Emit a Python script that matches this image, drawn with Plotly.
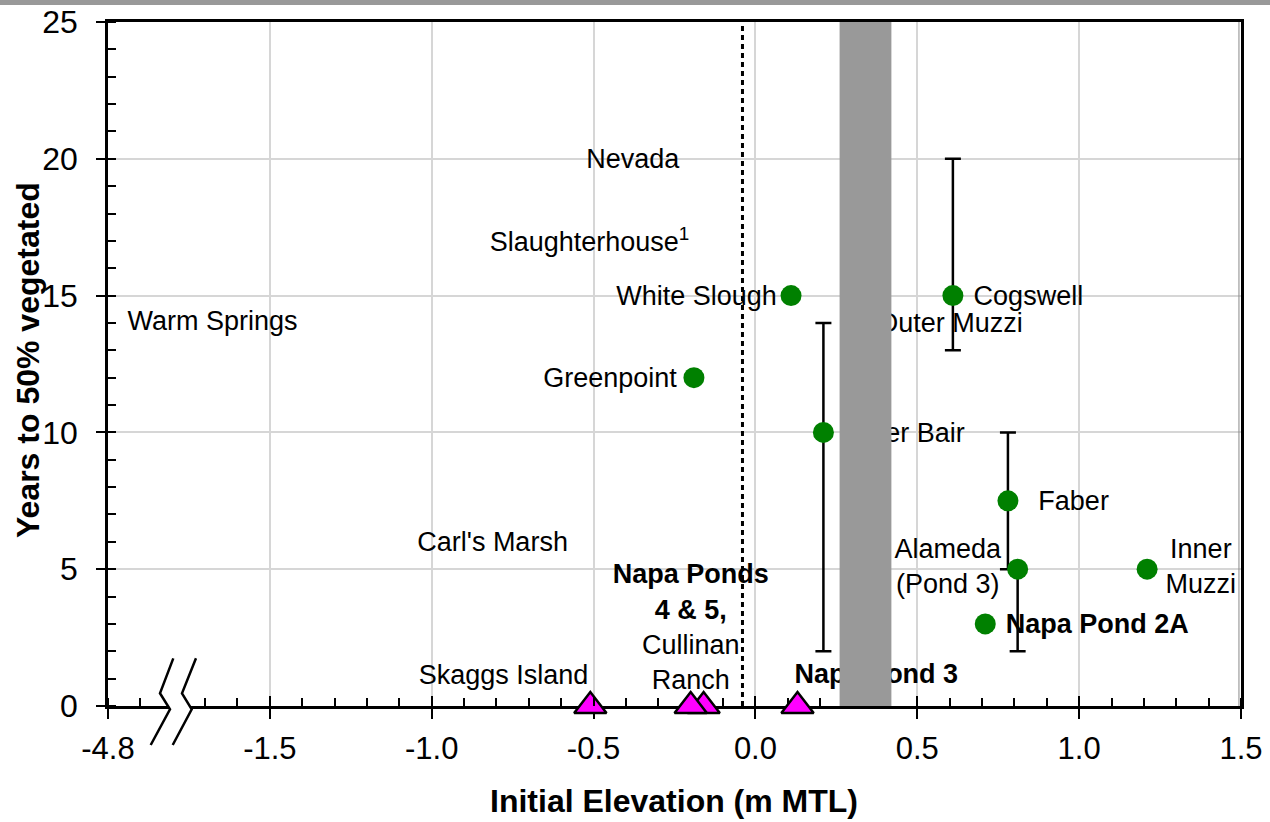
import plotly.graph_objects as go

# ---------------- data ----------------
green_x = [0.11, 0.61, -0.19, 0.21, 0.78, 0.81, 1.21, 0.71]
green_y = [15, 15, 12, 10, 7.5, 5, 5, 3]
green_err_plus = [0, 5, 0, 4, 2.5, 0, 0, 0]
green_err_minus = [0, 2, 0, 8, 2.5, 3, 0, 0]

tri_x = [-0.51, -0.16, -0.20, 0.13]
tri_y = [0, 0, 0, 0]

x_tickvals = [-2.0, -1.5, -1.0, -0.5, 0.0, 0.5, 1.0, 1.5]
x_ticktext = ["-4.8", "-1.5", "-1.0", "-0.5", "0.0", "0.5", "1.0", "1.5"]
y_tickvals = [0, 5, 10, 15, 20, 25]

label_text = [
    "Warm Springs", "Nevada", "Slaughterhouse<sup>1</sup>", "White Slough",
    "Cogswell", "Outer Muzzi", "Greenpoint", "Outer Bair", "Faber",
    "Alameda<br>(Pond 3)", "Inner<br>Muzzi", "<b>Napa Pond 2A</b>",
    "<b>Napa Pond 3</b>", "Carl's Marsh", "Skaggs Island",
    "<b>Napa Ponds</b><br><b>4 & 5,</b><br>Cullinan<br>Ranch",
]
label_x = [-1.94, -0.379, -0.821, 0.066, 0.674, 0.826, -0.243, 0.647, 0.874,
           0.594, 1.376, 0.773, 0.121, -0.812, -0.778, -0.200]
label_y = [13.98, 19.9, 16.88, 14.9, 14.9, 13.9, 11.9, 9.9, 7.4,
           5.02, 5.0, 2.92, 1.1, 5.92, 1.05, 2.8]
label_pos = ["middle right", "middle center", "middle right", "middle left",
             "middle right", "middle left", "middle left", "middle left",
             "middle right", "middle center", "middle center", "middle right",
             "middle right", "middle center", "middle center", "middle center"]

band_x = [0.26, 0.42]
dotted_x = -0.04

FONT = "Liberation Sans, Arial, sans-serif"

fig = go.Figure()

# labels (under error bars and band)
fig.add_trace(go.Scatter(
    x=label_x, y=label_y, mode="text", text=label_text, textposition=label_pos,
    textfont=dict(family=FONT, size=27, color="black"), cliponaxis=False,
    hoverinfo="skip", showlegend=False))

# green sites with error bars
fig.add_trace(go.Scatter(
    x=green_x, y=green_y, mode="markers",
    marker=dict(symbol="circle", size=21, color="#008000", line=dict(width=0)),
    error_y=dict(type="data", symmetric=False, array=green_err_plus,
                 arrayminus=green_err_minus, color="black", thickness=2.5, width=8),
    showlegend=False))

# triangles
fig.add_trace(go.Scatter(
    x=tri_x, y=tri_y, mode="markers", cliponaxis=False,
    marker=dict(symbol="triangle-up", size=28, color="#ff00ff",
                line=dict(color="black", width=2.5)),
    showlegend=False))

# dummy trace for overlay axis (major inside ticks)
fig.add_trace(go.Scatter(x=[-2.0], y=[-10], xaxis="x2", mode="markers",
                         marker=dict(size=1, opacity=0), showlegend=False, hoverinfo="skip"))

# ---------------- layout ----------------
L, R, T, B = 108, 29, 22, 116
W, H = 1270, 822
ph = H - T - B

def py(pix):
    return (H - B - pix) / ph

def dx(pix):
    return -2.0 + (pix - L) * 3.5 / (W - L - R)

shapes = []
# top grey bar
shapes.append(dict(type="rect", xref="paper", yref="paper", x0=-0.2, x1=1.2,
                   y0=py(5), y1=py(-2), fillcolor="#999999", line=dict(width=0),
                   layer="above"))
# dotted vertical line
shapes.append(dict(type="line", xref="x", yref="y", x0=dotted_x, x1=dotted_x, y0=0, y1=25,
                   line=dict(color="black", width=3, dash="5px,4px"), layer="between"))
# grey band
shapes.append(dict(type="rect", xref="x", yref="y", x0=band_x[0], x1=band_x[1], y0=0, y1=25,
                   fillcolor="#999999", line=dict(width=0), layer="above"))
# thin grey inner line along right border
shapes.append(dict(type="line", xref="paper", yref="paper", x0=0.9982, x1=0.9982, y0=0, y1=1,
                   line=dict(color="#888888", width=1), layer="above"))
# axis break
z1 = [(173.3, 658.3), (160, 693.3), (170, 709.3), (150.7, 745)]
z2 = [(196, 658.3), (182, 693.3), (191.7, 709.3), (172.7, 745)]
poly = z1 + z2[::-1]
path_fill = "M " + " L ".join(f"{dx(a):.4f},{py(b):.4f}" for a, b in poly) + " Z"
shapes.append(dict(type="path", xref="x", yref="paper", path=path_fill,
                   fillcolor="white", line=dict(width=0), layer="above"))
for z in (z1, z2):
    p = "M " + " L ".join(f"{dx(a):.4f},{py(b):.4f}" for a, b in z)
    shapes.append(dict(type="path", xref="x", yref="paper", path=p,
                       line=dict(color="black", width=2.5), layer="above"))

fig.update_layout(
    width=W, height=H, margin=dict(l=L, r=R, t=T, b=B, autoexpand=False),
    plot_bgcolor="white", paper_bgcolor="white",
    font=dict(family=FONT, color="black"),
    showlegend=False,
    xaxis=dict(range=[-2.0, 1.5], tickmode="array", tickvals=x_tickvals, ticktext=x_ticktext,
               ticks="outside", ticklen=10, tickwidth=2, tickcolor="black",
               showline=True, linewidth=2.5, linecolor="black", mirror=True,
               showgrid=True, gridcolor="#d6d6d6", gridwidth=1.5, zeroline=False,
               tickfont=dict(size=31, family=FONT), layer="below traces",
               automargin=False, ticklabelstandoff=3,
               minor=dict(tickmode="linear", tick0=-2.0, dtick=0.1, ticks="inside",
                          ticklen=8, tickwidth=2, tickcolor="black", showgrid=False)),
    xaxis2=dict(range=[-2.0, 1.5], overlaying="x", anchor="y", side="bottom",
                tickmode="array", tickvals=x_tickvals, ticks="inside", ticklen=10,
                tickwidth=2, tickcolor="black", showticklabels=False, showline=False,
                showgrid=False, zeroline=False, automargin=False),
    yaxis=dict(range=[0, 25], tickmode="array", tickvals=y_tickvals,
               ticks="outside", ticklen=9, tickwidth=2, tickcolor="black",
               showline=True, linewidth=2.5, linecolor="black", mirror=True,
               showgrid=True, gridcolor="#d6d6d6", gridwidth=1.5, zeroline=False,
               tickfont=dict(size=32, family=FONT), layer="below traces",
               ticklabelstandoff=12, automargin=False,
               minor=dict(tickmode="linear", tick0=0, dtick=1, ticks="inside",
                          ticklen=8, tickwidth=2, tickcolor="black", showgrid=False)),
    shapes=shapes,
    annotations=[
        dict(text="<b>Initial Elevation (m MTL)</b>", xref="paper", yref="paper",
             x=(673.5 - L) / (W - L - R), y=py(801), xanchor="center", yanchor="middle",
             showarrow=False, font=dict(size=32, family=FONT, color="black")),
        dict(text="<b>Years to 50% vegetated</b>", xref="paper", yref="paper",
             x=(28 - L) / (W - L - R), y=py(360), xanchor="center", yanchor="middle",
             textangle=-90, showarrow=False, font=dict(size=32, family=FONT, color="black")),
    ],
)

fig.write_html("out.html")
